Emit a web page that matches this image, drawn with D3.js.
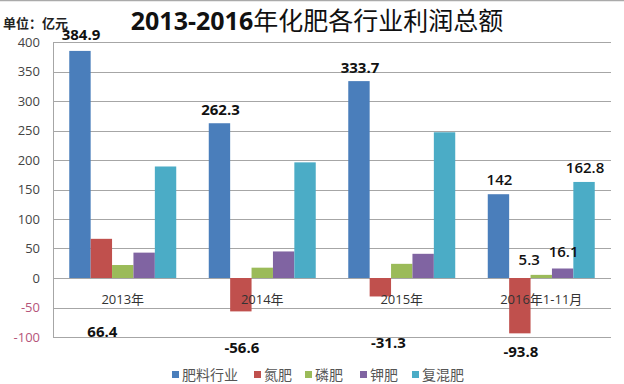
<!DOCTYPE html>
<html>
<head>
<meta charset="utf-8">
<script src="https://cdn.jsdelivr.net/npm/d3@7"></script>
<style>
  body { margin: 0; background: #fff; }
  svg { display: block; font-family: "Open Sans", "Noto Sans CJK SC", sans-serif; }
</style>
</head>
<body>
<div id="chart"></div>
<script>
// data
var categories = ["2013年", "2014年", "2015年", "2016年1-11月"];
var seriesNames = ["肥料行业", "氮肥", "磷肥", "钾肥", "复混肥"];
var feiliao = [384.9, 262.3, 333.7, 142];
var danfei = [66.4, -56.6, -31.3, -93.8];
var linfei = [22, 17.5, 24, 5.3];
var jiafei = [43, 45, 41, 16.1];
var fuhunfei = [189, 196, 247, 162.8];
var yTicks = [-100, -50, 0, 50, 100, 150, 200, 250, 300, 350, 400];
// data labels: series index, category index, text, where the label sits (value units), bold?
var labels = [
  [0, 0, "384.9", 403, true], [0, 1, "262.3", 276, true], [0, 2, "333.7", 347, true], [0, 3, "142", 158, false],
  [1, 0, "66.4", -100, true], [1, 1, "-56.6", -127, true], [1, 2, "-31.3", -119, true], [1, 3, "-93.8", -134, true],
  [2, 3, "5.3", 22, false], [3, 3, "16.1", 36, false], [4, 3, "162.8", 178, false]
];

var colors = ["#4a7ebb", "#c0504d", "#9bbb59", "#8064a2", "#4bacc6"];
var allSeries = [feiliao, danfei, linfei, jiafei, fuhunfei];

var width = 624, height = 384;
var margin = {left: 53, right: 13, top: 42, bottom: 47};

var svg = d3.select("#chart").append("svg")
    .attr("width", width)
    .attr("height", height);

svg.append("line")
    .attr("x1", 0).attr("x2", width).attr("y1", 0.5).attr("y2", 0.5)
    .attr("stroke", "#aaa").attr("stroke-width", 1.5);

var y = d3.scaleLinear().domain([-100, 400]).range([height - margin.bottom, margin.top]);
var x0 = d3.scaleBand().domain(categories).range([margin.left, width - margin.right]);
var x1 = d3.scaleBand().domain(d3.range(seriesNames.length))
    .range([0, x0.bandwidth()]).paddingOuter(0.76);

// grid
svg.append("g").selectAll("line")
    .data(yTicks)
    .enter().append("line")
    .attr("x1", margin.left).attr("x2", width - margin.right)
    .attr("y1", function (d) { return Math.round(y(d)) + 0.5; })
    .attr("y2", function (d) { return Math.round(y(d)) + 0.5; })
    .attr("stroke", "#a6a6a6").attr("stroke-width", 1);

svg.append("line")
    .attr("x1", margin.left + 0.5).attr("x2", margin.left + 0.5)
    .attr("y1", y(400)).attr("y2", y(-100))
    .attr("stroke", "#a6a6a6");

// y tick labels
svg.append("g").selectAll("text")
    .data(yTicks)
    .enter().append("text")
    .attr("x", 40)
    .attr("y", function (d) { return y(d) + 4.5; })
    .attr("text-anchor", "end")
    .style("font-size", "13px")
    .style("fill", function (d) { return d < 0 ? "#b5547a" : "#444"; })
    .text(function (d) { return d; });

// bars
var groups = svg.append("g").selectAll("g")
    .data(categories)
    .enter().append("g")
    .attr("transform", function (d) { return "translate(" + x0(d) + ",0)"; });

groups.selectAll("rect")
    .data(function (d, ci) {
        return allSeries.map(function (s, si) { return {si: si, v: s[ci]}; });
    })
    .enter().append("rect")
    .attr("x", function (d) { return x1(d.si); })
    .attr("width", x1.bandwidth())
    .attr("y", function (d) { return y(Math.max(0, d.v)); })
    .attr("height", function (d) { return Math.abs(y(d.v) - y(0)); })
    .attr("fill", function (d) { return colors[d.si]; });

// category labels just under the zero line
svg.append("g").selectAll("text")
    .data(categories)
    .enter().append("text")
    .attr("x", function (d) { return x0(d) + x0.bandwidth() / 2; })
    .attr("y", y(0) + 26)
    .attr("text-anchor", "middle")
    .style("font-size", "13px")
    .style("fill", "#333")
    .text(function (d) { return d; });

// value labels
svg.append("g").selectAll("text")
    .data(labels)
    .enter().append("text")
    .attr("x", function (d) {
        var shift = d[2] === "5.3" ? -12 : (d[2] === "-31.3" ? 8 : 1);
        return x0(categories[d[1]]) + x1(d[0]) + x1.bandwidth() / 2 + shift;
    })
    .attr("y", function (d) { return y(d[3]); })
    .attr("text-anchor", "middle")
    .style("font-size", "15px")
    .style("font-weight", function (d) { return d[4] ? "bold" : "600"; })
    .style("fill", "#111")
    .text(function (d) { return d[2]; });

// title
var title = svg.append("text")
    .attr("x", 317).attr("y", 30)
    .attr("text-anchor", "middle")
    .style("font-size", "25px")
    .style("fill", "#111");
title.append("tspan").style("font-weight", "bold").text("2013-2016");
title.append("tspan").style("font-family", "Noto Sans CJK SC").style("font-weight", "400").text("年化肥各行业利润总额");

svg.append("text")
    .attr("x", 3).attr("y", 28)
    .style("font-size", "13px")
    .style("font-weight", "bold")
    .style("font-family", "Noto Sans CJK SC")
    .style("fill", "#222")
    .text("单位：亿元");

// legend
var legendX = [172, 254, 305, 360, 412];
var legend = svg.append("g").selectAll("g")
    .data(seriesNames)
    .enter().append("g")
    .attr("transform", function (d, i) { return "translate(" + legendX[i] + ",375)"; });
legend.append("rect")
    .attr("x", 0).attr("y", -4).attr("width", 7).attr("height", 7)
    .attr("fill", function (d, i) { return colors[i]; });
legend.append("text")
    .attr("x", 10).attr("y", 5)
    .style("font-size", "14px")
    .style("font-family", "Noto Sans CJK SC")
    .style("fill", "#555")
    .text(function (d) { return d; });
</script>
</body>
</html>
